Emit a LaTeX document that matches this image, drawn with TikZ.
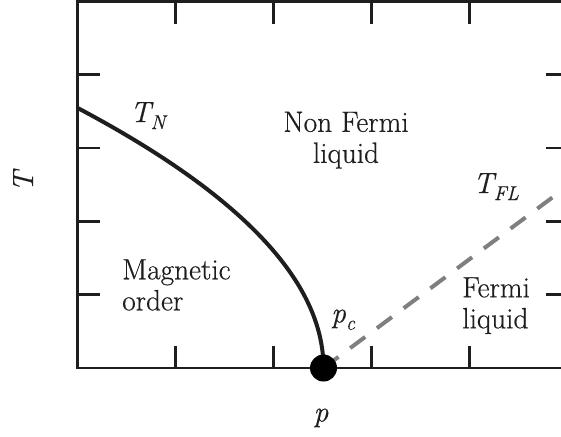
\documentclass[tikz,border=0pt]{standalone}
\usepackage{fontspec}
\setmainfont{Latin Modern Roman}[FakeBold=0.5]
\usetikzlibrary{positioning}
\definecolor{inkdark}{HTML}{1e1e1e}
\definecolor{fldash}{HTML}{7f7f7f}
\newcommand{\lsub}[1]{\raisebox{-0.24em}{\fontsize{15}{15}\selectfont\textit{#1}}}
\tikzset{
  frameline/.style={line width=2pt, draw=inkdark},
  phaseline/.style={line width=3pt, draw=inkdark},
  crossline/.style={line width=3pt, draw=fldash, dash pattern=on 14pt off 11pt},
  regionlabel/.style={font=\fontsize{22}{23.25}\selectfont, text=inkdark, inner sep=0pt},
  symlabel/.style={font=\fontsize{22}{23.25}\selectfont\itshape, text=inkdark, inner sep=0pt},
}

\begin{document}
\begin{tikzpicture}[x=0.75pt, y=-0.75pt]
  \clip (0,0) rectangle (561,436);

  % Frame and ticks
  \draw[frameline] (77.7,1.5) rectangle (568,368);
  \foreach \i in {1,...,4} {
    \draw[frameline] ({77.7+98*\i},1.5) -- ++(0,22);
    \draw[frameline] ({77.7+98*\i},368) -- ++(0,-22);
  }
  \foreach \i in {0,...,5} {
    \draw[frameline] (77.7,{1.5+73.3*\i}) -- ++(22,0);
    \draw[frameline] (568,{1.5+73.3*\i}) -- ++(-22,0);
  }

  % Phase boundaries
  \coordinate (qcp) at (323.5,368);
  \coordinate (tnend) at (77.7,108);
  \coordinate (flend) at (561,191);
  \draw[crossline] (qcp) -- (flend);
  \draw[phaseline] (qcp) .. controls (323.5,281.3) and (241.3,194.7) .. (tnend);
  \node[circle, fill=black, minimum size=20.25pt, inner sep=0pt] (pcdot) at (qcp) {};

  % Region labels
  \node[regionlabel, align=center, anchor=north] (nfl) at (346,111.5) {Non Fermi\\liquid};
  \node[regionlabel, align=left, anchor=north west] (mag) at (122,259) {Magnetic\\order};
  \node[regionlabel, align=left, anchor=north west] (fl) at (462,277) {Fermi\\liquid};

  % Symbols
  \node[symlabel, anchor=base west] (tn) at (130,122) {T\lsub{N}};
  \node[symlabel, anchor=base west] (pc) at (331,322.5) {p\lsub{c}};
  \node[symlabel, anchor=base west] (tfl) at (473,193) {T\lsub{FL}};
  \node[symlabel, anchor=base] (plab) at (321,421.5) {p};
  \node[symlabel, anchor=base, rotate=90] (tlab) at (33,181.5) {T};
\end{tikzpicture}
\end{document}
